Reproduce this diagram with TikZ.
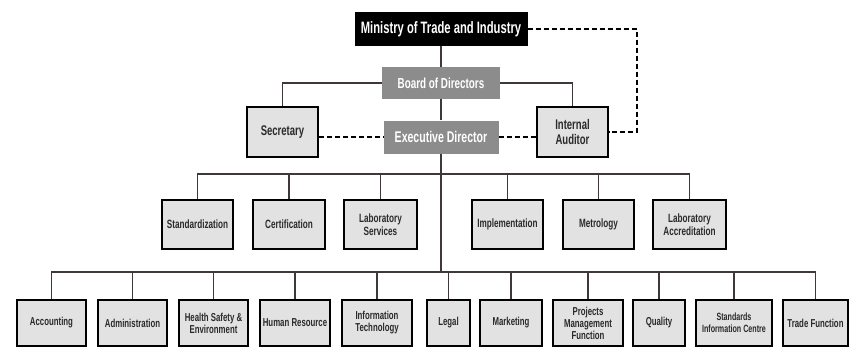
\documentclass[tikz,border=0pt]{standalone}
\usepackage{fontspec}
\setmainfont{Liberation Sans}[FakeStretch=0.68]
\usetikzlibrary{positioning}

\definecolor{linegray}{HTML}{3F3838}
\definecolor{boardgray}{HTML}{8C8C8C}
\definecolor{unitfill}{HTML}{E2E2E2}
\definecolor{unittext}{HTML}{2A2A2A}

\tikzset{
  ministry/.style={fill=black, text=white, minimum width=173pt, minimum height=34pt,
    inner sep=1pt, font=\fontsize{16.5}{18}\selectfont\bfseries},
  board/.style={fill=boardgray, text=white, minimum height=32pt, inner sep=1pt,
    font=\fontsize{14.5}{16}\selectfont\bfseries},
  unit/.style={draw=black, line width=2.2pt, fill=unitfill, text=unittext, align=center,
    minimum height=49pt, inner sep=1pt, font=\fontsize{12}{13}\selectfont\bfseries},
  office/.style={unit, minimum width=71pt, minimum height=50pt,
    font=\fontsize{14}{14.5}\selectfont\bfseries},
  dept/.style={unit, minimum height=46pt, font=\fontsize{11.5}{12}\selectfont\bfseries},
  link/.style={draw=linegray, line width=1.3pt},
  report/.style={draw=black, line width=1.8pt, dash pattern=on 5pt off 3pt}
}

\begin{document}
\begin{tikzpicture}[x=1pt,y=-1pt]
    \useasboundingbox (0,0) rectangle (849,348);
    % top of the chart
    \node[ministry] (MTI) at (441,29) {Ministry of Trade and Industry};
    \node[board, minimum width=118pt] (BD) at (441,83) {Board of Directors};
    \node[board, minimum width=115pt, minimum height=33pt,
          font=\fontsize{15.5}{17}\selectfont\bfseries] (ED) at (441,137) {Executive Director};
    \node[office] (SEC) at (282.5,132) {Secretary};
    \node[office] (IA)  at (572.5,132) {Internal\\Auditor};
    % divisions
    \node[unit, minimum width=71pt] (STD)  at (197.5,224.5) {Standardization};
    \node[unit, minimum width=72pt] (CERT) at (289,224.5)   {Certification};
    \node[unit, minimum width=73pt] (LABS) at (380.5,224.5) {Laboratory\\Services};
    \node[unit, minimum width=71pt] (IMPL) at (507.5,224.5) {Implementation};
    \node[unit, minimum width=71pt] (MET)  at (598.5,224.5) {Metrology};
    \node[unit, minimum width=73pt] (LABA) at (689.5,224.5) {Laboratory\\Accreditation};
    % departments
    \node[dept, minimum width=69pt] (ACC)  at (51.5,323)  {Accounting};
    \node[dept, minimum width=69pt] (ADM)  at (132.5,323) {Administration};
    \node[dept, minimum width=69pt] (HSE)  at (213.5,323) {Health Safety \&\\Environment};
    \node[dept, minimum width=70pt] (HR)   at (295,323)   {Human Resource};
    \node[dept, minimum width=70pt] (IT)   at (377,323)   {Information\\Technology};
    \node[dept, minimum width=43pt] (LEG)  at (448.5,323) {Legal};
    \node[dept, minimum width=62pt] (MKT)  at (511,323)   {Marketing};
    \node[dept, minimum width=70pt] (PMF)  at (588,323)   {Projects\\Management\\Function};
    \node[dept, minimum width=52pt] (QUA)  at (659,323)   {Quality};
    \node[dept, minimum width=76pt, font=\fontsize{10.5}{12}\selectfont\bfseries]
          (SIC)  at (734,323)   {Standards\\Information Centre};
    \node[dept, minimum width=65pt] (TF)   at (815.5,323) {Trade Function};
    \coordinate (midbar) at (441,174);
    \coordinate (lowbar) at (441,272);
    \coordinate (corner) at (637,29);
    \path[link]
      (MTI) -- (BD)
      (BD) -- (ED)
      (ED.south) -- (lowbar)
      (BD.west) -| (SEC.north)
      (BD.east) -| (IA.north)
      (STD.north) |- (midbar)  (CERT.north) |- (midbar)  (LABS.north) |- (midbar)
      (IMPL.north) |- (midbar) (MET.north) |- (midbar)   (LABA.north) |- (midbar)
      (ACC.north) |- (lowbar)  (ADM.north) |- (lowbar)   (HSE.north) |- (lowbar)
      (HR.north) |- (lowbar)   (IT.north) |- (lowbar)    (LEG.north) |- (lowbar)
      (MKT.north) |- (lowbar)  (PMF.north) |- (lowbar)   (QUA.north) |- (lowbar)
      (SIC.north) |- (lowbar)  (TF.north) |- (lowbar);
    \path[report]
      (MTI.east) -- (corner) |- (IA.east)
      (SEC.east |- ED.west) -- (ED.west)
      (ED.east) -- (ED.east -| IA.west);
\end{tikzpicture}
\end{document}
